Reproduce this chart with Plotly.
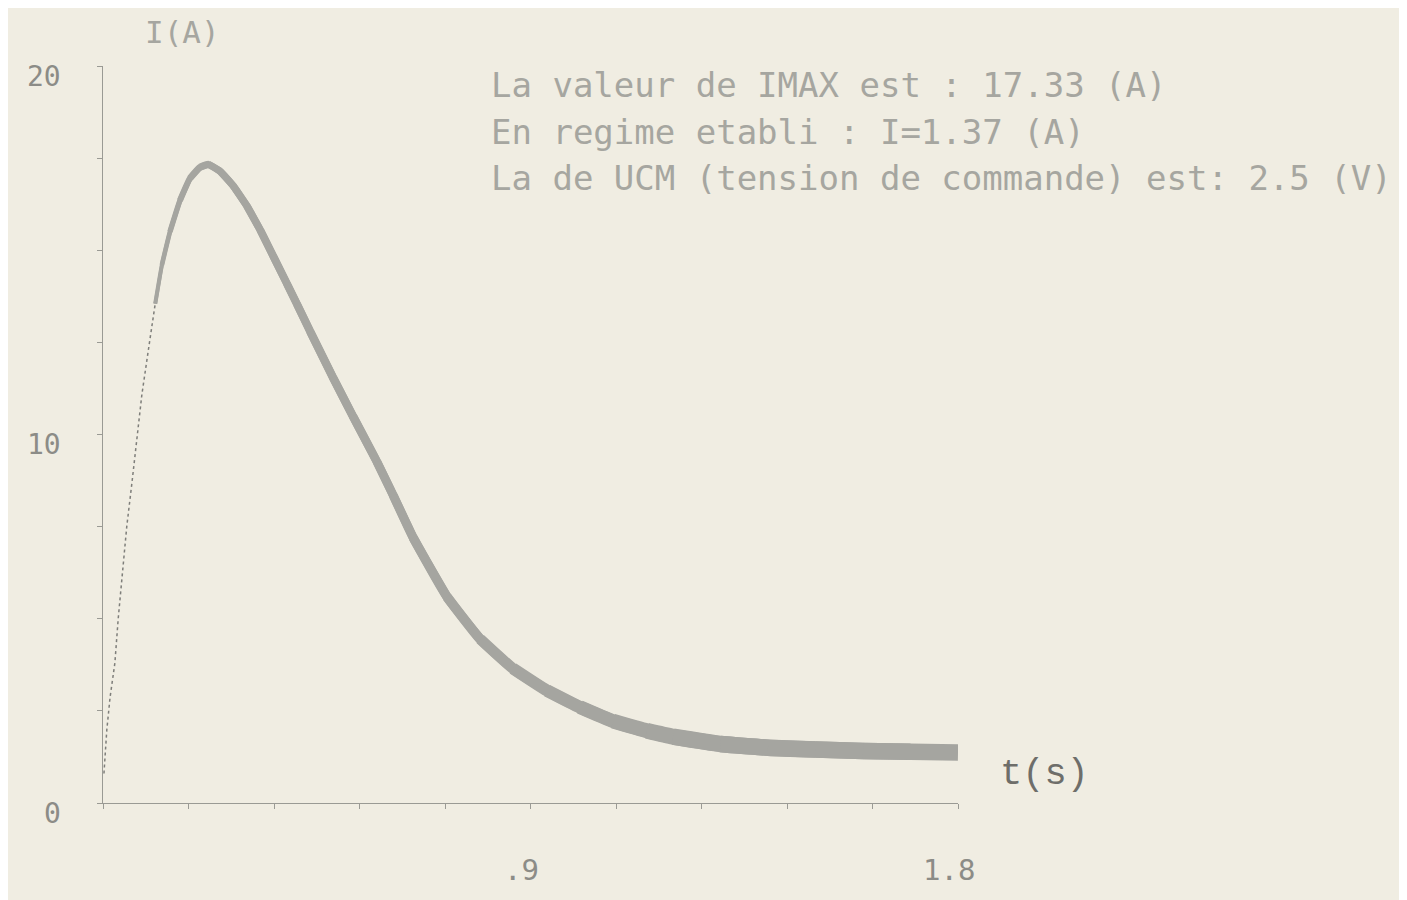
import plotly.graph_objects as go

# ---- data ----
t_s = [0.002, 0.008, 0.015, 0.025, 0.032, 0.040, 0.050, 0.061, 0.072, 0.082,
       0.099, 0.110, 0.124, 0.141, 0.162, 0.183, 0.204, 0.222, 0.246, 0.274,
       0.303, 0.331, 0.358, 0.387, 0.408, 0.436, 0.484, 0.526, 0.577, 0.611,
       0.653, 0.724, 0.794, 0.863, 0.935, 1.004, 1.074, 1.145, 1.200, 1.300,
       1.400, 1.500, 1.600, 1.700, 1.800]
i_a = [0.80, 1.98, 2.88, 3.80, 5.00, 6.20, 7.50, 8.70, 10.00, 11.10,
       12.60, 13.55, 14.60, 15.50, 16.35, 16.95, 17.25, 17.33, 17.15, 16.75,
       16.20, 15.55, 14.85, 14.10, 13.55, 12.80, 11.55, 10.50, 9.25, 8.35,
       7.20, 5.60, 4.45, 3.65, 3.05, 2.60, 2.22, 1.96, 1.80, 1.60,
       1.50, 1.45, 1.41, 1.39, 1.37]

x_tick_vals = [0.18 * k for k in range(11)]
x_label_vals = [0.9, 1.8]
x_label_text = [".9", "1.8"]
y_tick_vals = [2.5 * k for k in range(9)]
y_label_vals = [0, 10, 20]
y_label_text = ["0", "10", "20"]

info_lines = [
    "La valeur de IMAX est : 17.33 (A)",
    "En regime etabli : I=1.37 (A)",
    "La de UCM (tension de commande) est: 2.5 (V)",
]

BG = "#f0ede2"
AX = "#9a9a94"
TXT = "#a6a6a0"
MONO = "DejaVu Sans Mono"
CURVE = "#a5a5a0"


def stroke_width(t):
    """pen width (px) of the printed trace as it goes on"""
    if t < 0.10:
        return 1.5
    if t < 0.22:
        return 3 + (t - 0.10) / 0.12 * 4
    if t < 0.8:
        return 7 + (t - 0.22) / 0.58 * 2.5
    if t < 1.3:
        return 9.5 + (t - 0.8) / 0.5 * 7
    return 16.5


fig = go.Figure()

# thin dotted rising stroke
n_rise = next(k for k, t in enumerate(t_s) if t >= 0.10)
fig.add_trace(go.Scatter(
    x=t_s[:n_rise + 1], y=i_a[:n_rise + 1], mode="lines",
    line=dict(color="#7e7e7a", width=1.5, dash="dot"),
    hoverinfo="skip", showlegend=False))

# thickening stroke, drawn piece by piece
for k in range(n_rise, len(t_s) - 1):
    a, b = max(k - 1, n_rise), min(k + 2, len(t_s))
    w = stroke_width(0.5 * (t_s[k] + t_s[k + 1]))
    fig.add_trace(go.Scatter(
        x=t_s[a:b], y=i_a[a:b], mode="lines",
        line=dict(color=CURVE, width=w, shape="spline", smoothing=0.5),
        hoverinfo="skip", showlegend=False))

fig.update_xaxes(range=[0, 1.8], showgrid=False, zeroline=False,
                 showline=True, linecolor=AX, linewidth=1,
                 tickmode="array", tickvals=x_tick_vals, ticks="outside",
                 ticklen=5, tickcolor=AX, showticklabels=False)
fig.update_yaxes(range=[0, 20], showgrid=False, zeroline=False,
                 showline=True, linecolor=AX, linewidth=1,
                 tickmode="array", tickvals=y_tick_vals, ticks="outside",
                 ticklen=5, tickcolor=AX, showticklabels=False)

ann = []
for v, s in zip(x_label_vals, x_label_text):
    ann.append(dict(x=v, y=0, xref="x", yref="y", text=s, showarrow=False,
                    xanchor="center", yanchor="middle", yshift=-67,
                    xshift=-9,
                    font=dict(family=MONO, size=29, color="#8c8c87")))
for v, s in zip(y_label_vals, y_label_text):
    ann.append(dict(x=0, y=v, xref="x", yref="y", text=s, showarrow=False,
                    xanchor="right", yanchor="middle", xshift=-40, yshift=-10,
                    font=dict(family=MONO, size=28, color="#8c8c87")))
ann.append(dict(x=0, y=1, xref="paper", yref="paper", text="I(A)",
                showarrow=False, xanchor="left", yanchor="middle",
                xshift=40, yshift=34,
                font=dict(family=MONO, size=31, color=TXT)))
ann.append(dict(x=1, y=0, xref="paper", yref="paper", text="t(s)",
                showarrow=False, xanchor="left", yanchor="middle",
                xshift=40, yshift=29,
                font=dict(family="Liberation Mono", size=37, color="#6e6e6a")))
for k, line in enumerate(info_lines):
    ann.append(dict(x=0.452, y=0.974 - 0.063 * k, xref="paper", yref="paper",
                    text=line, showarrow=False, xanchor="left",
                    yanchor="middle",
                    font=dict(family=MONO, size=34, color=TXT)))

# the page body keeps an 8px margin, so the figure is shifted to compensate
fig.update_layout(width=1399, height=892,
                  margin=dict(l=95, r=449, t=58, b=97),
                  paper_bgcolor=BG, plot_bgcolor=BG,
                  annotations=ann, showlegend=False)

fig.write_html("out.html")
